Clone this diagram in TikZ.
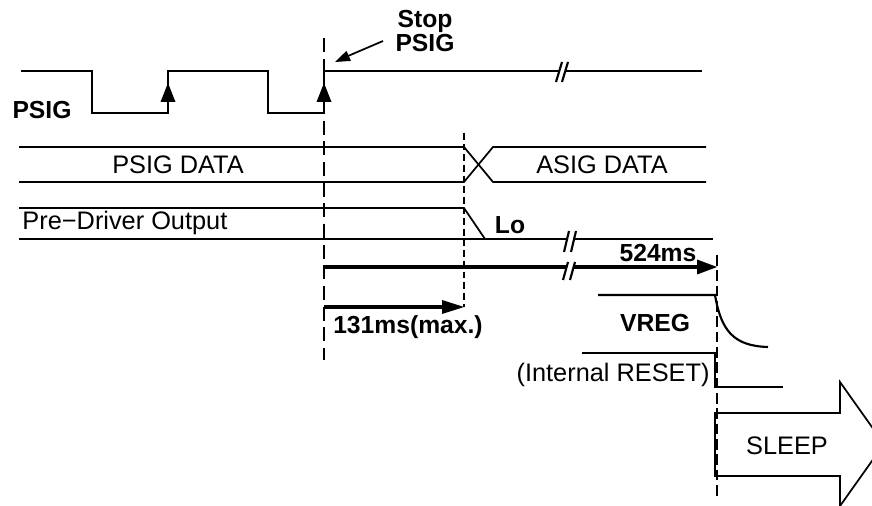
\documentclass[tikz,border=0pt]{standalone}
\usepackage{fontspec}
\setmainfont{Liberation Sans}

\tikzset{every picture/.style={line width=0.75pt}}
\tikzset{
  wave/.style={line width=1.6pt},
  bus/.style={line width=1.3pt},
  timebar/.style={line width=2.6pt},
  markerline/.style={line width=2.2pt, dash pattern=on 10.5pt off 5pt},
  thinmarker/.style={line width=0.8pt, dash pattern=on 5pt off 3pt},
  endmarker/.style={line width=1.6pt, dash pattern=on 8pt off 3.5pt},
  headfill/.style={fill=black, draw opacity=0},
  boldlbl/.style={font=\fontsize{18.5}{15.75}\selectfont\bfseries, inner sep=0.75pt},
  lbl/.style={font=\fontsize{19}{19}\selectfont, inner sep=0.75pt},
}

\begin{document}
\begin{tikzpicture}[x=0.75pt,y=0.75pt,yscale=-1,xscale=1]
\clip (0,0) rectangle (872,506);

%Points
\coordinate (stoptop) at (324,38);
\coordinate (stopbot) at (324,360);
\coordinate (asigtop) at (464,133);
\coordinate (asigbot) at (464,307);
\coordinate (sleeptop) at (717,255);
\coordinate (sleepbot) at (717,497);
\coordinate (ptrstart) at (383,41);
\coordinate (ptrend) at (348,56);

%Straight Lines: PSIG waveform
\draw [wave] (21,71) -- (92,71) -- (92,113) -- (168,113) -- (168,71) -- (268,71) -- (268,113) -- (324,113) -- (324,71) -- (559,71) ;
\draw [wave] (565,71) -- (702,71) ;
\draw [wave] (556,82) -- (562,62) ;
\draw [wave] (562,82) -- (568,62) ;
\draw [shift={(168,83)}, rotate = 90] [headfill] (19,-7.5) -- (0,0) -- (19,7.5) -- cycle ;
\draw [shift={(324,83)}, rotate = 90] [headfill] (19,-7.5) -- (0,0) -- (19,7.5) -- cycle ;

%Straight Lines: Stop PSIG pointer
\draw [line width=1.3pt] (ptrstart) -- (ptrend) ;
\draw [shift={(335,62)}, rotate = 336] [headfill] (15,-5.5) -- (0,0) -- (15,5.5) -- cycle ;

%Straight Lines: stop marker
\draw [markerline] (stoptop) -- (stopbot) ;

%Straight Lines: data bus
\draw [bus] (19,147) -- (464,147) -- (493,182) -- (706,182) ;
\draw [bus] (19,182) -- (464,182) -- (493,147) -- (706,147) ;

%Straight Lines: pre-driver output
\draw [bus] (19,208) -- (464,208) -- (485,239) ;
\draw [wave] (19,239) -- (566,239) ;
\draw [wave] (574,239) -- (713,239) ;
\draw [wave] (564,252) -- (569,231) ;
\draw [wave] (571,252) -- (576,231) ;

%Straight Lines: 524ms
\draw [timebar] (324,267) -- (566,267) ;
\draw [timebar] (573,267) -- (699,267) ;
\draw [wave] (563,280) -- (568,262) ;
\draw [wave] (570,280) -- (575,262) ;
\draw [shift={(717,267)}, rotate = 180] [headfill] (20,-7.5) -- (0,0) -- (20,7.5) -- cycle ;

%Straight Lines: 131ms
\draw [thinmarker] (asigtop) -- (asigbot) ;
\draw [timebar] (324,307) -- (444,307) ;
\draw [shift={(464,307)}, rotate = 180] [headfill] (22,-7) -- (0,0) -- (22,7) -- cycle ;

%Straight Lines: sleep marker
\draw [endmarker] (sleeptop) -- (sleepbot) ;

%Curve Lines: VREG
\draw [wave] (598,295) -- (715,295) .. controls (721,330) and (733,346) .. (768,347) ;
%Straight Lines: internal RESET
\draw [wave] (582,353) -- (715,353) -- (715,387) -- (783,387) ;

%Shape: Right Arrow
\draw [bus] (715,413) -- (840,413) -- (840,382) -- (884,444) -- (840,506) -- (840,476) -- (715,476) -- cycle ;

% Text Node
\node [boldlbl, align=center] (stoplbl) at (425,31) {Stop\\PSIG};
% Text Node
\node [boldlbl] (psiglbl) at (42,110) {PSIG};
% Text Node
\node [lbl] (psigdata) at (178,165) {PSIG DATA};
% Text Node
\node [lbl] (asigdata) at (602,165) {ASIG DATA};
% Text Node
\node [lbl, anchor=west] (predrv) at (21,223) {Pre−Driver Output};
% Text Node
\node [boldlbl] (lolbl) at (510,225) {Lo};
% Text Node
\node [boldlbl] (t524) at (658,253) {524ms};
% Text Node
\node [boldlbl] (t131) at (408,327) {131ms(max.)};
% Text Node
\node [boldlbl] (vreglbl) at (655,323) {VREG};
% Text Node
\node [lbl, anchor=east] (resetlbl) at (711,375) {(Internal RESET)};
% Text Node
\node [lbl] (sleeplbl) at (787,446) {SLEEP};

\end{tikzpicture}
\end{document}
